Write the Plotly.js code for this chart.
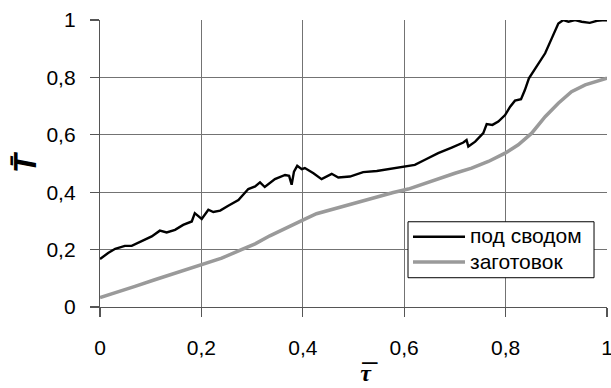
<!DOCTYPE html>
<html>
<head>
<meta charset="utf-8">
<script src="https://cdn.plot.ly/plotly-3.0.1.min.js"></script>
<style>html,body{margin:0;padding:0;background:#fff;}#chart{width:611px;height:388px;}</style>
</head>
<body>
<div id="chart"></div>
<script>
// Black curve: "под сводом"
const tauVault = [0, 0.016, 0.030, 0.049, 0.0625, 0.082, 0.102, 0.118, 0.1315, 0.148, 0.164, 0.181, 0.187, 0.2006, 0.2137, 0.2235, 0.237, 0.253, 0.273, 0.2925, 0.306,
  0.3156, 0.325, 0.345, 0.365, 0.373, 0.378, 0.3826, 0.389, 0.398, 0.404, 0.421, 0.437, 0.457, 0.47, 0.493, 0.519, 0.546, 0.572, 0.602,
  0.621, 0.641, 0.667, 0.6937, 0.7166, 0.723, 0.7265, 0.74, 0.756, 0.7627, 0.774, 0.7856, 0.799, 0.809, 0.8185, 0.8304, 0.838, 0.846, 0.861, 0.878, 0.891, 0.904, 0.914, 0.924, 0.937, 0.95, 0.966, 0.98, 0.996, 1.0];
const tVault = [0.167, 0.188, 0.203, 0.213, 0.213, 0.228, 0.246, 0.266, 0.26, 0.269, 0.286, 0.298, 0.327, 0.307, 0.339, 0.331, 0.336, 0.353, 0.373, 0.411, 0.42,
  0.434, 0.418, 0.4455, 0.46, 0.457, 0.426, 0.472, 0.492, 0.48, 0.484, 0.466, 0.4455, 0.464, 0.451, 0.4546, 0.47, 0.474, 0.481, 0.489,
  0.495, 0.513, 0.536, 0.5555, 0.573, 0.582, 0.559, 0.576, 0.606, 0.637, 0.6345, 0.646, 0.669, 0.698, 0.719, 0.724, 0.756, 0.797, 0.837, 0.884, 0.936, 0.988, 1.0, 0.994, 1.0, 0.994, 0.99, 0.997, 1.0, 0.998];

// Gray curve: "заготовок"
const tauBillet = [0, 0.03, 0.069, 0.108, 0.148, 0.187, 0.2, 0.24, 0.279, 0.306, 0.335, 0.375, 0.404, 0.427, 0.467, 0.506, 0.546, 0.5785, 0.608, 0.64,
  0.667, 0.70, 0.733, 0.766, 0.799, 0.825, 0.8515, 0.878, 0.904, 0.93, 0.957, 0.976, 1.0];
const tBillet = [0.033, 0.049, 0.072, 0.095, 0.118, 0.141, 0.15, 0.17, 0.2, 0.22, 0.248, 0.283, 0.306, 0.325, 0.3446, 0.365, 0.385, 0.399, 0.411, 0.43,
  0.449, 0.466, 0.484, 0.507, 0.536, 0.565, 0.6056, 0.663, 0.71, 0.75, 0.774, 0.785, 0.797];

const seriesNames = ["под сводом", "заготовок"];
const tickVals = [0, 0.2, 0.4, 0.6, 0.8, 1];
const tickLabels = ["0", "0,2", "0,4", "0,6", "0,8", "1"];

const legendName = n => '<span style="font-size:21px">' + n + '</span>';

const traces = [
  {x: tauVault, y: tVault, mode: "lines", name: legendName(seriesNames[0]), line: {color: "#000", width: 2.4}},
  {x: tauBillet, y: tBillet, mode: "lines", name: legendName(seriesNames[1]), line: {color: "#9a9a9a", width: 3.5}}
];

const axisCommon = {
  range: [0, 1], tickvals: tickVals, ticktext: tickLabels,
  showgrid: true, gridcolor: "#737373", gridwidth: 1.2,
  showline: true, linecolor: "#555", linewidth: 1.2,
  ticks: "outside", ticklen: 9, tickcolor: "#555", tickwidth: 1.2,
  zeroline: false, fixedrange: true, ticklabeloverflow: "allow",
  tickfont: {family: "Liberation Sans, Arial, sans-serif", size: 21, color: "#000"}
};

const layout = {
  width: 611, height: 388,
  margin: {l: 100, r: 4, t: 20, b: 81},
  paper_bgcolor: "#fff", plot_bgcolor: "#fff",
  showlegend: true,
  xaxis: Object.assign({}, axisCommon, {
    ticklabelstandoff: 13,
    title: {text: "&nbsp;&nbsp;&nbsp;&nbsp;<b><i>τ</i></b>", font: {family: "Liberation Serif, serif", size: 24, color: "#000"}, standoff: 5}
  }),
  yaxis: Object.assign({}, axisCommon, {
    ticklabelstandoff: 10,
    title: {text: "<b><i>T̄</i></b>", font: {family: "Liberation Sans Narrow, Liberation Sans, Arial, sans-serif", size: 31, color: "#000"}, standoff: 0}
  }),
  annotations: [
    {text: "–", xref: "paper", yref: "paper", x: 0.533, y: -0.246, xanchor: "center", yanchor: "bottom", showarrow: false,
     font: {family: "Liberation Sans, Arial, sans-serif", size: 28, color: "#000"}}
  ],
  shapes: [
    {type: "rect", xref: "paper", yref: "paper", x0: 0.6075, x1: 0.9744, y0: 0.102, y1: 0.297,
     line: {color: "#000", width: 1}, fillcolor: "#fff", layer: "above"}
  ],
  legend: {
    x: 0.6075, y: 0.1995, xanchor: "left", yanchor: "middle",
    bgcolor: "rgba(0,0,0,0)", borderwidth: 0,
    font: {family: "Liberation Sans, Arial, sans-serif", size: 17, color: "#000"},
    itemwidth: 52, tracegroupgap: 0
  }
};

Plotly.newPlot("chart", traces, layout, {staticPlot: true, displayModeBar: false});
</script>
</body>
</html>
